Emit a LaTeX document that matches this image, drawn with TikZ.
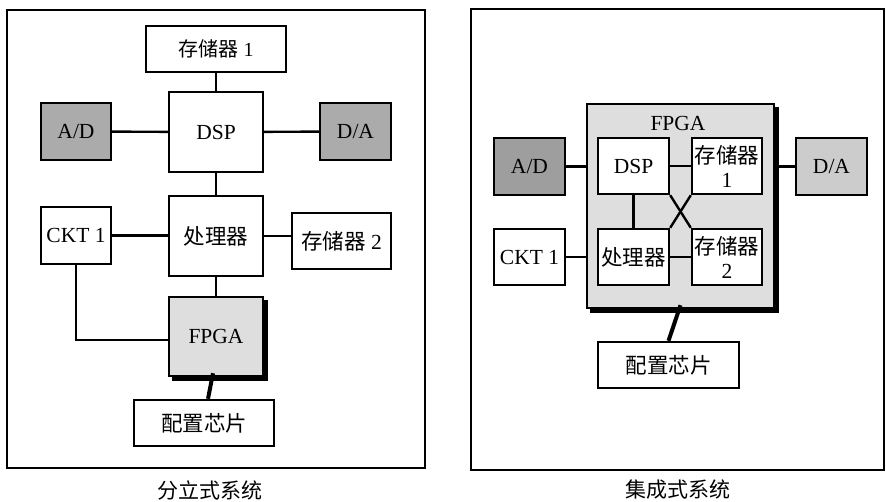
\documentclass[tikz,border=0pt]{standalone}
\usepackage{fontspec}
\setmainfont{Liberation Serif}
\newfontfamily\cjk{Noto Sans CJK SC}
\usetikzlibrary{backgrounds}
\begin{document}
\begin{tikzpicture}[x=1pt,y=-1pt,
  box/.style={draw=black,line width=2.4pt,fill=white,inner sep=0pt,align=center,
    font=\fontsize{21.5}{23}\selectfont},
  darkbox/.style={box,fill=black!33},
  lightbox/.style={box,fill=black!20},
  fpgabox/.style={box,fill=black!13},
  conn/.style={line width=2.4pt},
  thick conn/.style={line width=4pt},
  frame/.style={draw=black,line width=2.4pt},
  shadowfill/.style={fill=black},
  caption/.style={font=\fontsize{21}{23}\selectfont\cjk}]
\useasboundingbox (0,0) rectangle (886,501);
% ---------- left panel ----------
\draw[frame] (7,10) rectangle (425,468);
\node[box,minimum width=140,minimum height=46,font=\fontsize{20}{22}\selectfont] (m1) at (216,49) {{\cjk 存储器} 1};
\node[box,minimum width=94,minimum height=80] (dsp) at (216,132) {DSP};
\node[darkbox,minimum width=70,minimum height=57] (ad) at (76,131.5) {A/D};
\node[darkbox,minimum width=71,minimum height=57] (da) at (355.5,131.5) {D/A};
\node[box,minimum width=70,minimum height=57] (ckt) at (76,235.5) {CKT 1};
\node[box,minimum width=94,minimum height=80] (cpu) at (216,236) {\cjk 处理器};
\node[box,minimum width=99,minimum height=56] (m2) at (341.5,241) {{\cjk 存储器} 2};
\node[fpgabox,minimum width=94,minimum height=79] (fpga) at (216,336.5) {FPGA};
\node[box,minimum width=140,minimum height=46] (cfg) at (204,423) {\cjk 配置芯片};
\node[caption] (capl) at (210,490) {分立式系统};
\draw[conn] (m1) -- (dsp);
\draw[conn] (ad) -- (dsp);
\draw[conn] (dsp) -- (da);
\draw[conn] (dsp) -- (cpu);
\draw[conn] (ckt.east) -- (ckt.east -| cpu.west);
\draw[conn] (cpu.east) -- (cpu.east -| m2.west);
\draw[conn] (cpu) -- (fpga);
\draw[conn] (ckt.south) |- ([yshift=-3.5]fpga.west);
\draw[thick conn] ([xshift=-3,yshift=4]fpga.south) -- ([xshift=4]cfg.north);
% ---------- right panel ----------
\draw[frame] (471,9) rectangle (884,470);
\node[fpgabox,minimum width=187,minimum height=204] (bigf) at (680.5,206) {};
\node[font=\fontsize{21.5}{23}\selectfont,inner sep=0pt] (flab) at (678,123) {FPGA};
\node[darkbox,fill=black!38,minimum width=71,minimum height=57] (ad2) at (529.5,166.5) {A/D};
\node[lightbox,minimum width=71,minimum height=57] (da2) at (831.5,166.5) {D/A};
\node[box,minimum width=71,minimum height=56] (dsp2) at (633.5,166) {DSP};
\node[box,minimum width=70,minimum height=56,font=\fontsize{21.5}{24}\selectfont] (m12) at (727,166) {\cjk 存储器\\1};
\node[box,minimum width=71,minimum height=56] (cpu2) at (633.5,257) {\cjk 处理器};
\node[box,minimum width=70,minimum height=56,font=\fontsize{21.5}{24}\selectfont] (m22) at (727,257) {\cjk 存储器\\2};
\node[box,minimum width=71,minimum height=56] (ckt2) at (529.5,257) {CKT 1};
\node[box,minimum width=141,minimum height=46] (cfg2) at (668.5,365) {\cjk 配置芯片};
\node[caption] (capr) at (678,490) {集成式系统};
\draw[conn] (ad2.east) -- (ad2.east -| bigf.west);
\draw[conn] (bigf.east |- da2.west) -- (da2.west);
\draw[conn] (dsp2) -- (m12);
\draw[conn] (dsp2) -- (cpu2);
\draw[conn] (cpu2) -- (m22);
\draw[conn] (ckt2.east) -- (ckt2.east -| bigf.west);
\draw[conn] (dsp2.south east) -- (m22.north west);
\draw[conn] (m12.south west) -- (cpu2.north east);
\draw[thick conn] ([yshift=4]bigf.south) -- (cfg2.north);
% ---------- shadows and background ----------
\begin{pgfonlayer}{background}
\fill[white] (0,0) rectangle (886,501);
\fill[shadowfill] ([shift={(4,4)}]fpga.north west) rectangle ([shift={(4,4)}]fpga.south east);
\fill[shadowfill] ([shift={(4,4)}]bigf.north west) rectangle ([shift={(4,4)}]bigf.south east);
\end{pgfonlayer}
\end{tikzpicture}
\end{document}
